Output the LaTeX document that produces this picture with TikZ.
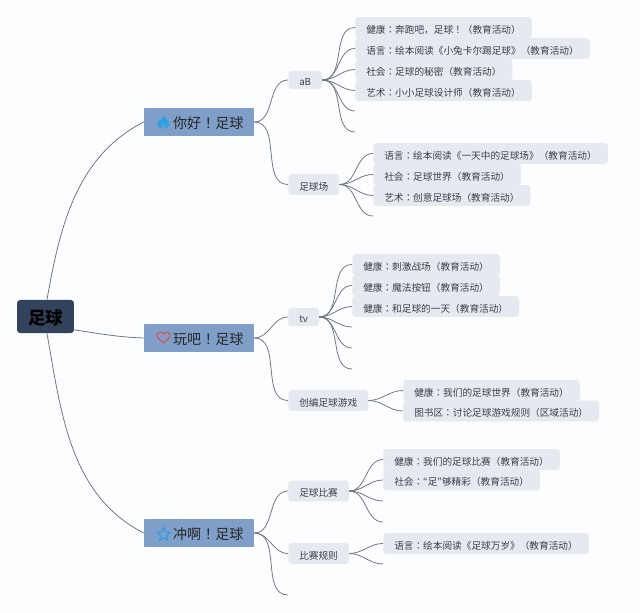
\documentclass[tikz,border=0pt]{standalone}
\usepackage{fontspec}
\setmainfont{Noto Sans CJK JP}
\definecolor{paper}{HTML}{FCFDFE}
\definecolor{rootfill}{HTML}{33435C}
\definecolor{topicfill}{HTML}{7F9FC8}
\definecolor{leaffill}{HTML}{E6E9F0}
\definecolor{linkgray}{HTML}{6E7480}
\definecolor{inkdark}{HTML}{3A3F48}
\definecolor{iconblue}{HTML}{2F9FE3}
\definecolor{iconred}{HTML}{D9534F}
\tikzset{
	rootbox/.style={fill=rootfill, rounded corners=2.2pt, inner sep=0pt, minimum width=40.5pt, minimum height=23.5pt, text=black, font=\fontsize{12.4}{14}\selectfont\bfseries, text height=1.2em, text depth=.06em},
	topicbox/.style={fill=topicfill, rounded corners=.6pt, inner sep=0pt, minimum width=78.2pt, minimum height=19.9pt, text=black!85, font=\fontsize{10}{12}\selectfont, text height=.95em, text depth=.05em},
	subbox/.style={fill=leaffill, rounded corners=2.2pt, inner ysep=0pt, inner xsep=7.8pt, minimum height=14.9pt, text=inkdark, font=\fontsize{6.87}{8}\selectfont, text height=.9em, text depth=.06em},
	leafbox/.style={subbox, anchor=west},
	link/.style={draw=linkgray, line width=.55pt, out=0, in=180}
}
\begin{document}
\begin{tikzpicture}[x=0.025cm, y=-0.025cm]
	\fill[paper] (0,0) rectangle (640,613);
	\useasboundingbox (0,0) rectangle (640,613);
	\node[rootbox] (root) at (45.5,316.5) {足球};
	\node[topicbox] (hello) at (199,122) {\hspace*{13.2pt}你好！足球};
	\node[topicbox] (play) at (199,338) {\hspace*{13.2pt}玩吧！足球};
	\node[topicbox] (rush) at (199,533) {\hspace*{13.2pt}冲啊！足球};
	\node[subbox, anchor=west, minimum height=13pt] (ab) at (288,80) {aB};
	\node[subbox, anchor=west] (field) at (288,184.5) {足球场};
	\node[subbox, anchor=west, minimum height=13pt] (tv) at (288,317) {tv};
	\node[subbox, anchor=west] (game) at (288,400.5) {创编足球游戏};
	\node[subbox, anchor=west] (match) at (288,491) {足球比赛};
	\node[subbox, anchor=west] (rules) at (288,553.5) {比赛规则};
	\node[leafbox] (ab1) at (355,27.5) {健康：奔跑吧，足球！（教育活动）};
	\node[leafbox] (ab2) at (355,48.5) {语言：绘本阅读《小兔卡尔踢足球》（教育活动）};
	\node[leafbox] (ab3) at (355,69.5) {社会：足球的秘密（教育活动）};
	\node[leafbox] (ab4) at (355,90.5) {艺术：小小足球设计师（教育活动）};
	\coordinate (ab5) at (355,111);
	\coordinate (ab6) at (355,132);
	\node[leafbox] (field1) at (373,153.5) {语言：绘本阅读《一天中的足球场》（教育活动）};
	\node[leafbox] (field2) at (373,174.5) {社会：足球世界（教育活动）};
	\node[leafbox] (field3) at (373,195.5) {艺术：创意足球场（教育活动）};
	\coordinate (field4) at (373,216);
	\node[leafbox] (tv1) at (352,264.5) {健康：刺激战场（教育活动）};
	\node[leafbox] (tv2) at (352,285.5) {健康：魔法按钮（教育活动）};
	\node[leafbox] (tv3) at (352,306.5) {健康：和足球的一天（教育活动）};
	\coordinate (tv4) at (352,327);
	\coordinate (tv5) at (352,348);
	\coordinate (tv6) at (352,369);
	\node[leafbox] (game1) at (403,390.5) {健康：我们的足球世界（教育活动）};
	\node[leafbox] (game2) at (403,411) {图书区：讨论足球游戏规则（区域活动）};
	\node[leafbox] (match1) at (383,459.5) {健康：我们的足球比赛（教育活动）};
	\node[leafbox] (match2) at (383,480) {社会：“足”够精彩（教育活动）};
	\coordinate (match3) at (383,501);
	\coordinate (match4) at (383,522);
	\node[leafbox] (rules1) at (383,543.5) {语言：绘本阅读《足球万岁》（教育活动）};
	\coordinate (rules2) at (383,564);
	\coordinate (rush3) at (288,595);
	\draw[link, looseness=.95] (root.85) to[out=80, in=207] (hello.west);
	\draw[link] (root.-25) to[out=-8, in=178] (play.west);
	\draw[link, looseness=.95] (root.-85) to[out=-80, in=153] (rush.west);
	\draw[link] (hello.east) to (ab.west);
	\draw[link] (hello.east) to (field.west);
	\draw[link] (play.east) to (tv.west);
	\draw[link] (play.east) to (game.west);
	\draw[link] (rush.east) to (match.west);
	\draw[link] (rush.east) to (rules.west);
	\draw[link] (rush.east) to (rush3);
	\draw[link] (ab.east) to (ab1.west);
	\draw[link] (ab.east) to (ab2.west);
	\draw[link] (ab.east) to (ab3.west);
	\draw[link] (ab.east) to (ab4.west);
	\draw[link] (ab.east) to (ab5);
	\draw[link] (ab.east) to (ab6);
	\draw[link] (field.east) to (field1.west);
	\draw[link] (field.east) to (field2.west);
	\draw[link] (field.east) to (field3.west);
	\draw[link] (field.east) to (field4);
	\draw[link] (tv.east) to (tv1.west);
	\draw[link] (tv.east) to (tv2.west);
	\draw[link] (tv.east) to (tv3.west);
	\draw[link] (tv.east) to (tv4);
	\draw[link] (tv.east) to (tv5);
	\draw[link] (tv.east) to (tv6);
	\draw[link] (game.east) to (game1.west);
	\draw[link] (game.east) to (game2.west);
	\draw[link] (match.east) to (match1.west);
	\draw[link] (match.east) to (match2.west);
	\draw[link] (match.east) to (match3);
	\draw[link] (match.east) to (match4);
	\draw[link] (rules.east) to (rules1.west);
	\draw[link] (rules.east) to (rules2);
	\fill[iconblue] (163.5,115.5) .. controls (165,118) and (169.5,121) .. (169.5,124) .. controls (169.5,127) and (167,128.5) .. (163.5,128.5) .. controls (160,128.5) and (157.5,127) .. (157.5,124) .. controls (157.5,122) and (158.5,120.5) .. (159.5,119) .. controls (160,120) and (160.5,120.5) .. (161,121) .. controls (162,119) and (163,117.5) .. (163.5,115.5) -- cycle;
	\fill[topicfill!60!iconblue] (163.5,123.5) .. controls (165,125) and (166,126) .. (165.5,128.5) -- (161.5,128.5) .. controls (161,126) and (162,125) .. (163.5,123.5) -- cycle;
	\draw[iconred, line width=.8pt] (163.5,343) .. controls (160,340) and (157,338) .. (157,335) .. controls (157,332) and (162,331) .. (163.5,334) .. controls (165,331) and (170,332) .. (170,335) .. controls (170,338) and (167,340) .. (163.5,343) -- cycle;
	\draw[iconblue, line width=.8pt] (163.5,527.5) -- (165.4,531.9) -- (170.2,532.3) -- (166.5,535.5) -- (167.6,540.2) -- (163.5,537.7) -- (159.4,540.2) -- (160.5,535.5) -- (156.8,532.3) -- (161.6,531.9) -- cycle;
\end{tikzpicture}
\end{document}
